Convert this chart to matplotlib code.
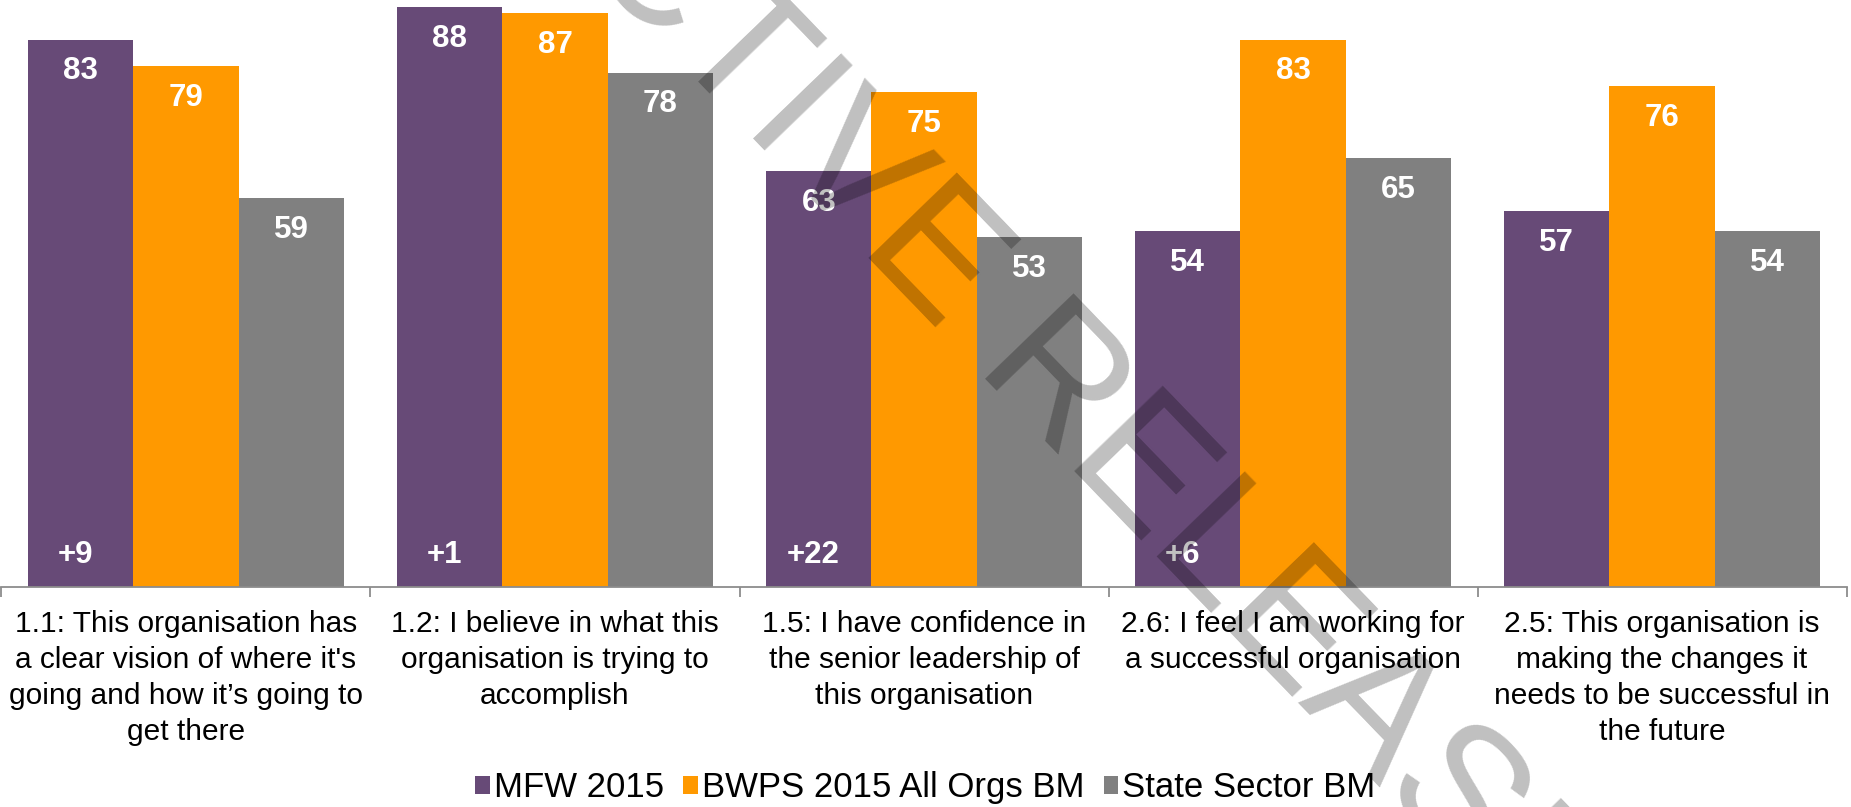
import matplotlib.pyplot as plt
import numpy as np
from matplotlib.patches import Patch

plt.rcParams["font.family"] = ["Liberation Sans", "DejaVu Sans"]

# survey questions shown along the x axis
categories = [
    "1.1: This organisation has\na clear vision of where it's\ngoing and how it\u2019s going to\nget there",
    "1.2: I believe in what this\norganisation is trying to\naccomplish",
    "1.5: I have confidence in\nthe senior leadership of\nthis organisation",
    "2.6: I feel I am working for\na successful organisation",
    "2.5: This organisation is\nmaking the changes it\nneeds to be successful in\nthe future",
]

series_names = ["MFW 2015", "BWPS 2015 All Orgs BM", "State Sector BM"]
mfw_2015 = [83, 88, 63, 54, 57]
bwps_2015 = [79, 87, 75, 83, 76]
state_sector = [59, 78, 53, 65, 54]

# change on previous survey, printed at the foot of the MFW bars
mfw_change = ["+9", "+1", "+22", "+6", ""]

colors = ["#674A77", "#FF9900", "#808080"]

fig = plt.figure(figsize=(18.51, 8.07), dpi=100)
ax = fig.add_axes([0.0008, 0.273, 0.9968, 0.727])

x = np.arange(len(categories))
width = 0.285
offsets = [-width, 0.0, width]

for vals, off, col in zip([mfw_2015, bwps_2015, state_sector], offsets, colors):
    bars = ax.bar(x + off, vals, width, color=col, linewidth=0)
    for rect, v in zip(bars, vals):
        ax.annotate(
            f"{v}",
            (rect.get_x() + rect.get_width() / 2, v),
            xytext=(0, -23),
            textcoords="offset points",
            ha="center",
            va="center",
            fontsize=22.5,
            fontweight="bold",
            color="white",
        )

for xi, txt in zip(x, mfw_change):
    if txt:
        ax.annotate(
            txt,
            (xi - width - 0.015, 0),
            xytext=(0, 23),
            textcoords="offset points",
            ha="center",
            va="center",
            fontsize=22.5,
            fontweight="bold",
            color="white",
        )

ax.set_xlim(-0.5, len(categories) - 0.5)
ax.set_ylim(0, 89)
ax.set_yticks([])
for side in ["top", "left", "right"]:
    ax.spines[side].set_visible(False)
ax.spines["bottom"].set_color("#8C8C8C")
ax.spines["bottom"].set_linewidth(1.3)

ax.set_xticks(x)
ax.set_xticklabels(categories, fontsize=21.5, linespacing=1.36, color="black")
ax.tick_params(axis="x", which="major", length=0, pad=17)
ax.set_xticks(np.arange(-0.5, len(categories)), minor=True)
ax.tick_params(axis="x", which="minor", length=7, width=1.3, color="#8C8C8C")

handles = [Patch(facecolor=c, edgecolor="none") for c in colors]
fig.legend(
    handles,
    series_names,
    loc="center",
    bbox_to_anchor=(0.5, 0.024),
    ncol=3,
    frameon=False,
    fontsize=25,
    handlelength=0.42,
    handleheight=0.42,
    handletextpad=0.12,
    columnspacing=0.55,
)

# release stamp across the chart
fig.text(
    0.4959,
    0.6976,
    "PROACTIVE RELEASE",
    transform=fig.transFigure,
    rotation=-46,
    rotation_mode="anchor",
    ha="center",
    va="center",
    fontsize=128,
    color="black",
    alpha=0.25,
    zorder=10,
)

fig.savefig("out.png", dpi=100)
